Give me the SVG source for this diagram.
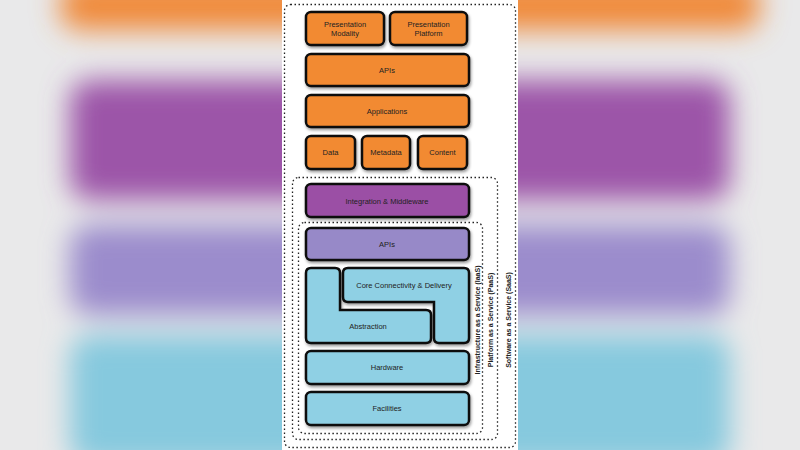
<svg xmlns="http://www.w3.org/2000/svg" width="800" height="450" viewBox="0 0 800 450">
<defs>
<filter id="blur" x="-20%" y="-20%" width="140%" height="140%"><feGaussianBlur stdDeviation="14"/></filter>
<filter id="sh" x="-10%" y="-20%" width="120%" height="150%"><feDropShadow dx="1" dy="2" stdDeviation="1.5" flood-color="#000" flood-opacity="0.4"/></filter>
</defs>
<style>
.n{stroke:#111;stroke-width:2.5;filter:url(#sh)}
.o{fill:#f28a30}.p{fill:#9b4fa5}.l{fill:#9789c8}.b{fill:#8fd0e4}
.t{font-family:"Liberation Sans",Arial,sans-serif;font-size:7.5px;text-anchor:middle;fill:#222}
.v{font-family:"Liberation Sans",Arial,sans-serif;font-size:7px;font-weight:bold;text-anchor:middle;fill:#222}
.d{fill:none;stroke:#222;stroke-width:1.3;stroke-dasharray:1.5 2.5}
</style>
<rect width="800" height="450" fill="#e9e9ea"/>
<g filter="url(#blur)">
<rect x="60" y="-20" width="700" height="50" rx="20" fill="#f08a3a"/>
<rect x="70" y="80" width="660" height="120" rx="20" fill="#9c55a8"/>
<rect x="70" y="225" width="660" height="90" rx="20" fill="#9b8ccc"/>
<rect x="70" y="335" width="660" height="130" rx="20" fill="#86c9de"/>
</g>
<rect x="282" y="0" width="236" height="450" fill="#fff"/>
<g id="containers">
<rect class="d" x="284.5" y="4.5" width="231" height="443" rx="6"/>
<rect class="d" x="292.5" y="177.5" width="205" height="262" rx="6"/>
<rect class="d" x="298.5" y="222.5" width="184" height="211" rx="6"/>
<text class="v" transform="translate(480,320) rotate(-90)">Infrastructure as a Service (IaaS)</text>
<text class="v" transform="translate(493,320) rotate(-90)">Platform as a Service (PaaS)</text>
<text class="v" transform="translate(511,320) rotate(-90)">Software as a Service (SaaS)</text>
</g>
<g id="pres-modality"><rect class="n o" x="306" y="12" width="78" height="33" rx="5"/><text class="t" x="345" y="27">Presentation</text><text class="t" x="345" y="36">Modality</text></g>
<g id="pres-platform"><rect class="n o" x="390" y="12" width="77" height="33" rx="5"/><text class="t" x="428.5" y="27">Presentation</text><text class="t" x="428.5" y="36">Platform</text></g>
<g id="apis-top"><rect class="n o" x="306" y="54" width="163" height="32" rx="5"/><text class="t" x="387" y="73">APIs</text></g>
<g id="applications"><rect class="n o" x="306" y="95" width="163" height="32" rx="5"/><text class="t" x="387" y="114">Applications</text></g>
<g id="data"><rect class="n o" x="306" y="136" width="49" height="33" rx="5"/><text class="t" x="330.5" y="155">Data</text></g>
<g id="metadata"><rect class="n o" x="362" y="136" width="48" height="33" rx="5"/><text class="t" x="386" y="155">Metadata</text></g>
<g id="content"><rect class="n o" x="418" y="136" width="49" height="33" rx="5"/><text class="t" x="442.5" y="155">Content</text></g>
<g id="integration"><rect class="n p" x="306" y="184" width="163" height="33" rx="5"/><text class="t" x="387" y="204">Integration &amp; Middleware</text></g>
<g id="apis-infra"><rect class="n l" x="306" y="228" width="163" height="32" rx="5"/><text class="t" x="387" y="247">APIs</text></g>
<g id="abstraction"><path class="n b" d="M311,268 H335 Q340,268 340,273 V310 H426 Q431,310 431,315 V338 Q431,343 426,343 H311 Q306,343 306,338 V273 Q306,268 311,268 Z"/><text class="t" x="368" y="329">Abstraction</text></g>
<g id="core"><path class="n b" d="M348,268 H464 Q469,268 469,273 V338 Q469,343 464,343 H439 Q434,343 434,338 V302 H348 Q343,302 343,297 V273 Q343,268 348,268 Z"/><text class="t" x="404" y="288">Core Connectivity &amp; Delivery</text></g>
<g id="hardware"><rect class="n b" x="306" y="351" width="163" height="33" rx="5"/><text class="t" x="387" y="370">Hardware</text></g>
<g id="facilities"><rect class="n b" x="306" y="392" width="163" height="33" rx="5"/><text class="t" x="387" y="411">Facilities</text></g>
<g id="connectors"></g>
</svg>
